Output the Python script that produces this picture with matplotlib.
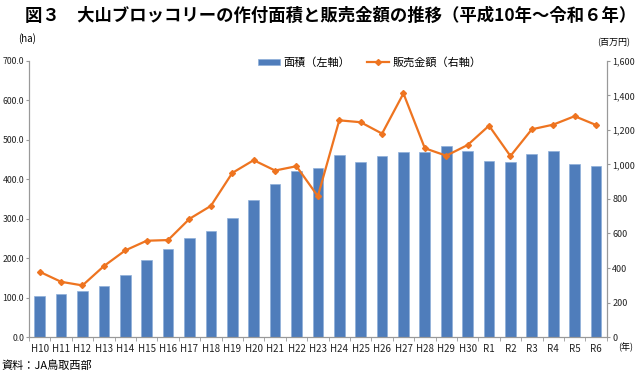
import matplotlib
matplotlib.use("Agg")
import matplotlib.pyplot as plt
import numpy as np
from matplotlib.ticker import FuncFormatter, FixedLocator

plt.rcParams['font.family'] = ['Noto Sans CJK JP', 'DejaVu Sans']

years = ["H10", "H11", "H12", "H13", "H14", "H15", "H16", "H17", "H18", "H19",
         "H20", "H21", "H22", "H23", "H24", "H25", "H26", "H27", "H28", "H29",
         "H30", "R1", "R2", "R3", "R4", "R5", "R6"]
area = [105, 110, 116, 130, 156, 195, 223, 250, 270, 302,
        347, 389, 421, 428, 462, 443, 458, 470, 468, 484,
        471, 447, 443, 464, 471, 439, 434]
sales = [378, 320, 299, 411, 502, 558, 562, 685, 760, 951,
         1025, 965, 990, 816, 1256, 1245, 1179, 1412, 1094, 1051,
         1113, 1225, 1049, 1204, 1231, 1280, 1229]

title = "図３　大山ブロッコリーの作付面積と販売金額の推移（平成10年～令和６年）"
bar_label = "面積（左軸）"
line_label = "販売金額（右軸）"

fig = plt.figure(figsize=(6.4, 3.73), dpi=100)
ax = fig.add_axes([0.0453, 0.0965, 0.9027, 0.74])
ax2 = ax.twinx()

x = np.arange(len(years))
bars = ax.bar(x, area, width=0.5, color="#4F7DBB", edgecolor="#8FB0DA", linewidth=0.5,
              label=bar_label, zorder=2)
ln, = ax2.plot(x, sales, color="#EE7420", linewidth=1.6, marker="D", markersize=3,
               label=line_label, zorder=3)

ax.set_xlim(-0.5, len(years) - 0.5)
ax.set_ylim(0, 700)
ax2.set_ylim(0, 1600)
ax.set_yticks(np.arange(0, 701, 100))
ax.yaxis.set_major_formatter(FuncFormatter(lambda v, p: f"{v:.1f}"))
ax2.set_yticks(np.arange(0, 1601, 200))
ax2.yaxis.set_major_formatter(FuncFormatter(lambda v, p: f"{int(v):,}"))

ax.set_xticks(x)
ax.set_xticklabels(years)
ax.xaxis.set_minor_locator(FixedLocator(np.arange(-0.5, len(years), 1)))
ax.tick_params(axis='x', which='major', length=0, labelsize=7, pad=5, colors="#222222")
ax.tick_params(axis='x', which='minor', length=3, color="#999999")
ax.tick_params(axis='y', length=2, labelsize=6.3, pad=1.5, color="#999999", colors="#222222")
ax2.tick_params(axis='y', length=2, labelsize=6.5, pad=2, color="#999999", colors="#222222")

for a in (ax, ax2):
    a.spines['top'].set_visible(False)
    for s in ('left', 'right', 'bottom'):
        a.spines[s].set_color("#999999")
        a.spines[s].set_linewidth(0.8)

fig.text(0.516, 0.957, title, ha="center", va="center", fontsize=12.5, fontweight="bold")
fig.text(0.028, 0.897, "(ha)", ha="left", va="center", fontsize=7)
fig.text(0.985, 0.885, "(百万円)", ha="right", va="center", fontsize=6.5)
fig.text(0.99, 0.068, "(年)", ha="right", va="center", fontsize=6.5)
fig.text(0.002, 0.02, "資料：JA鳥取西部", ha="left", va="center", fontsize=8)

ax.legend([bars, ln], [bar_label, line_label], loc="upper center", bbox_to_anchor=(0.59, 1.05),
          ncol=2, frameon=False, fontsize=8, handlelength=2.0, handleheight=0.5,
          columnspacing=1.5, handletextpad=0.3)

fig.savefig("out.png", dpi=100)
